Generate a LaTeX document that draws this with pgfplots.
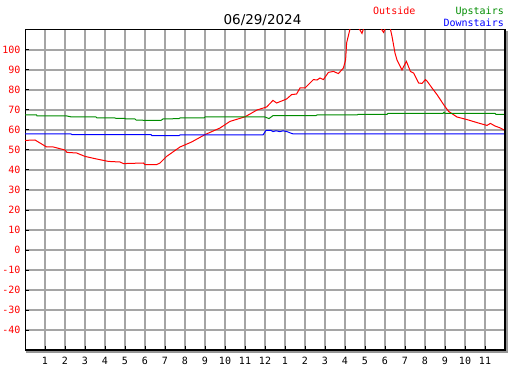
\documentclass[border=0pt]{standalone}
\usepackage{fontspec}
\setmainfont{DejaVu Sans Mono}
\newfontfamily\titlefont{DejaVu Sans}
\usepackage{pgfplots}
\pgfplotsset{compat=1.18}
\definecolor{gridgray}{RGB}{165,165,165}
\definecolor{upgreen}{RGB}{0,140,0}
\definecolor{shadowgray}{RGB}{150,150,150}
\begin{document}
\begin{tikzpicture}[x=1pt,y=1pt]
\useasboundingbox (0,0) rectangle (527,370);
\begin{axis}[name=ax, at={(25pt,20pt)}, anchor=south west,
  scale only axis, width=480pt, height=320pt,
  xmin=0, xmax=24, ymin=-50, ymax=110,
  xtick={1,2,3,4,5,6,7,8,9,10,11,12,13,14,15,16,17,18,19,20,21,22,23},
  xticklabels={1,2,3,4,5,6,7,8,9,10,11,12,1,2,3,4,5,6,7,8,9,10,11},
  ytick={-40,-30,-20,-10,0,10,20,30,40,50,60,70,80,90,100},
  yticklabels={-40,-30,-20,-10,0,10,20,30,40,50,60,70,80,90,100},
  grid=major, major grid style={gridgray, line width=1.1pt},
  tick align=inside, tick pos=left, major tick length=4pt,
  tick style={black, line width=1pt},
  axis line style={black, line width=1pt},
  yticklabel style={red, font=\fontsize{10}{12}\selectfont, xshift=-1pt},
  xticklabel style={black, font=\fontsize{10}{12}\selectfont, yshift=-4pt},
]
\addplot[red, line width=1pt] coordinates {
(0,54.8) (0.5,55) (0.75,53.5) (1.08,51.5) (1.42,51.5) (2.0,50) (2.1,48.8) (2.58,48.5)
(3.0,46.8) (3.58,45.5) (4.17,44.3) (4.75,44) (4.92,43.2) (5.92,43.5) (6.0,42.7) (6.58,42.7)
(6.75,43.5) (7.08,46.8) (7.75,51.5) (8.33,54) (9.0,57.7) (9.75,61) (10.25,64.3) (11.0,66.6)
(11.6,70) (12.08,71.5) (12.4,74.8) (12.58,73.5) (13.08,75.5) (13.33,77.7) (13.58,78) (13.75,81)
(14.0,81) (14.42,85.2) (14.6,85) (14.75,86) (14.92,85.2) (15.17,88.8) (15.42,89.3) (15.67,88.2)
(15.92,91) (16.03,95) (16.08,103.5) (16.25,110.5) (16.5,114) (16.85,108.3) (17.0,113) (17.5,115)
(17.93,108.8) (18.1,113) (18.27,110.5) (18.35,106.8) (18.5,98.5) (18.6,95) (18.85,90) (18.93,91.7)
(19.07,94.3) (19.27,89.3) (19.43,88.5) (19.68,83.5) (19.85,83.3) (20.02,85.2) (20.1,84.5) (20.35,81)
(20.6,77.7) (20.93,72.7) (21.18,69.3) (21.6,66.5) (22.1,65.2) (22.4,64.3) (22.77,63.2) (23.1,62.3)
(23.27,63.3) (23.5,62) (23.77,61) (23.95,60)
};
\addplot[upgreen, line width=1pt] coordinates {
(0,67.5) (0.58,67.5) (0.6,67) (2.1,67) (2.33,66.5) (3.55,66.5) (3.6,66) (4.5,66)
(4.55,65.8) (5.0,65.8) (5.05,65.5) (5.5,65.5) (5.55,65) (6.1,64.8) (6.8,64.8) (6.9,65.5)
(7.7,65.7) (7.75,66) (8.95,66) (9.0,66.5) (12.0,66.5) (12.2,65.7) (12.4,67.2) (14.55,67.2)
(14.6,67.5) (16.6,67.5) (16.65,67.8) (18.1,67.8) (18.15,68.3) (20.9,68.3) (20.95,68.8) (21.0,68.3)
(23.5,68.3) (23.55,67.8) (24,67.8)
};
\addplot[blue, line width=1pt] coordinates {
(0,58) (2.3,58) (2.35,57.7) (6.3,57.7) (6.35,57.2) (7.7,57.2) (7.75,57.5) (11.9,57.5)
(12.05,59.8) (12.3,59.8) (12.4,59.2) (12.55,59.6) (12.75,59.2) (12.9,59.6) (13.1,59.2) (13.35,58.2)
(13.45,58) (24,58)
};
\end{axis}
\draw[shadowgray, line width=2pt] ([xshift=1pt,yshift=-2pt]ax.south west) -- ([xshift=2pt,yshift=-2pt]ax.south east) -- ([xshift=2pt,yshift=-1pt]ax.north east);
\draw[black, line width=2pt] (ax.south west) -- (ax.south east) -- (ax.north east);
\node[anchor=base, inner sep=0, font=\titlefont\fontsize{13.5}{16}\selectfont] at (262.5,345) {06/29/2024};
\node[anchor=base west, inner sep=0, red] at (373,355) {Outside};
\node[anchor=base east, inner sep=0, upgreen] at (504,355) {Upstairs};
\node[anchor=base east, inner sep=0, blue] at (504,343) {Downstairs};
\end{tikzpicture}
\end{document}
